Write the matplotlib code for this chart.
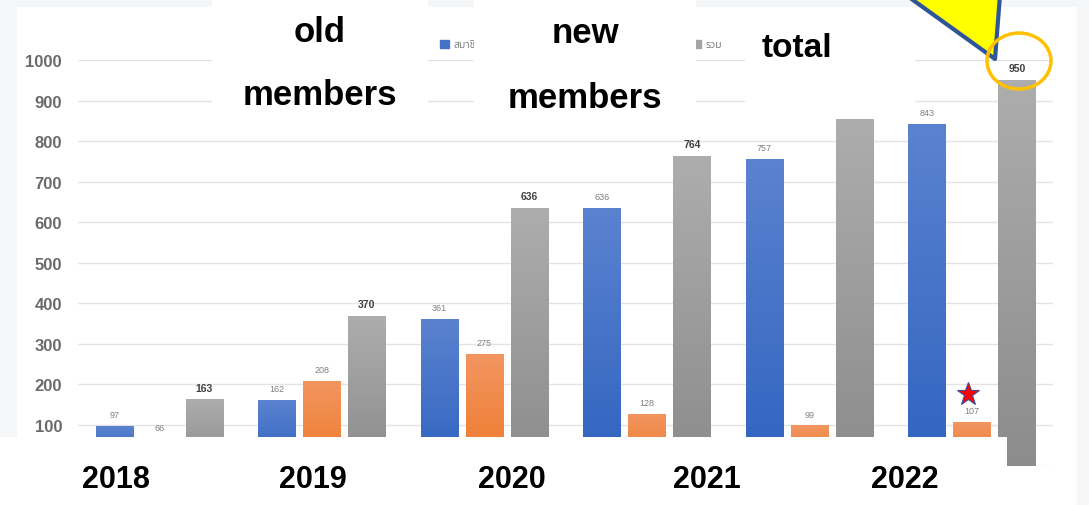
import numpy as np
import matplotlib
matplotlib.use('Agg')
import matplotlib.pyplot as plt
from matplotlib.patches import Rectangle, Polygon, Ellipse
from matplotlib.colors import LinearSegmentedColormap

# data
groups = ['2018', '2019', '2020', '2021', '2022', '2022b']
old_members = [97, 162, 361, 636, 757, 843]
new_members = [66, 208, 275, 128, 99, 107]
total = [163, 370, 636, 764, 856, 950]
legend_names = ['สมาชิกเก่า', 'สมาชิกใหม่', 'รวม']
year_labels = ['2018', '2019', '2020', '2021', '2022']
yticks = list(range(0, 1001, 100))

W, H = 1089, 506
fig = plt.figure(figsize=(W / 100, H / 100), dpi=100, facecolor='#f5f6f8')
plt.rcParams['font.family'] = ['Liberation Sans', 'DejaVu Sans']

# white chart panel behind everything
fig.add_artist(Rectangle((17 / W, 0), (1077 - 17) / W, (H - 8) / H,
                         transform=fig.transFigure, facecolor='white',
                         edgecolor='none', zorder=-5))

ax = fig.add_axes([78 / W, (H - 466.6) / H, (1053 - 78) / W, (466.6 - 61) / H])
ax.set_facecolor('none')

x = np.arange(len(groups))
off = 0.277
bw = 0.228


def gradient(bars, top, bottom):
    cmap = LinearSegmentedColormap.from_list('g', [bottom, top])
    for b in bars:
        x0, y0 = b.get_xy()
        im = ax.imshow(np.linspace(0, 1, 128).reshape(-1, 1), cmap=cmap,
                       extent=[x0, x0 + b.get_width(), y0, y0 + b.get_height()],
                       origin='lower', aspect='auto', zorder=2)
        im.set_clip_path(b)
        b.set_facecolor('none')
        b.set_edgecolor('none')


b1 = ax.bar(x - off, old_members, bw, color='#4472c4', label=legend_names[0], zorder=2)
b2 = ax.bar(x, new_members, bw, color='#ed7d31', label=legend_names[1], zorder=2)
b3 = ax.bar(x + off, total, bw, color='#a5a5a5', label=legend_names[2], zorder=2)

leg = ax.legend(handles=[Rectangle((0, 0), 1, 1, color=c) for c in ['#4472c4', '#ed7d31', '#a5a5a5']],
                labels=legend_names, loc='center left',
                bbox_to_anchor=(440 / W, 1 - 46 / H), bbox_transform=fig.transFigure,
                ncol=3, frameon=False, handlelength=0.9, handleheight=0.9,
                borderpad=0, borderaxespad=0, handletextpad=0.4, columnspacing=6.65,
                prop={'family': ['Noto Sans Thai', 'DejaVu Sans'], 'size': 7.5})
for t in leg.get_texts():
    t.set_color('#7f7f7f')

gradient(b1, '#5b82cf', '#3064c0')
gradient(b2, '#f29560', '#ee7a2c')
gradient(b3, '#adadad', '#8c8c8c')

for bars, col, wt, fs in [(b1, '#808080', 'normal', 6.5), (b2, '#808080', 'normal', 6.5),
                          (b3, '#404040', 'bold', 7.5)]:
    ax.bar_label(bars, padding=5, color=col, fontweight=wt, fontsize=fs)

ax.set_xlim(-0.5, len(groups) - 0.5)
ax.set_ylim(0, 1000)
ax.set_yticks(yticks)
ax.set_xticks([])
ax.tick_params(axis='y', length=0, pad=11.5, labelsize=12, labelcolor='#6a6a6a')
for t in ax.get_yticklabels():
    t.set_fontweight('bold')
ax.grid(axis='y', color='#e4e4e4', linewidth=1, zorder=0)
for s in ax.spines.values():
    s.set_visible(False)

# overlay in pixel coordinates
ov = fig.add_axes([0, 0, 1, 1], zorder=10)
ov.set_xlim(0, W)
ov.set_ylim(H, 0)
ov.axis('off')
ov.patch.set_alpha(0)

for (x0, y0, x1, y1) in [(0, 438, 1007, 506), (212, 0, 428, 128),
                         (474, 0, 696, 128), (745, 8, 915, 120)]:
    ov.add_patch(Rectangle((x0, y0), x1 - x0, y1 - y0, facecolor='white', edgecolor='none'))

big = dict(fontsize=25, fontweight='bold', color='black', ha='center', va='baseline')
ov.text(320, 42, 'old', **big)
ov.text(320, 105, 'members', **big)
ov.text(585, 43, 'new', **big)
ov.text(585, 108, 'members', **big)
ov.text(797, 57, 'total', fontsize=24, fontweight='bold', color='black', ha='center', va='baseline')

for xp, lab in zip([116, 313, 512, 707, 905], year_labels):
    ov.text(xp, 488, lab, fontsize=22, fontweight='bold', color='black',
            ha='center', va='baseline')

ov.add_patch(Polygon([(906, -4), (1000, -4), (995, 60)], closed=True,
                     facecolor='#ffff00', edgecolor='#2f5597', linewidth=3, joinstyle='round'))
ov.add_patch(Ellipse((1019, 62), 64, 56, facecolor='none', edgecolor='#ffc000', linewidth=2.5))
ov.plot([968], [395], marker='*', markersize=17, markerfacecolor='#ff0000',
        markeredgecolor='#3a4f9a', markeredgewidth=0.8)

fig.savefig('out.png', dpi=100, facecolor=fig.get_facecolor())
